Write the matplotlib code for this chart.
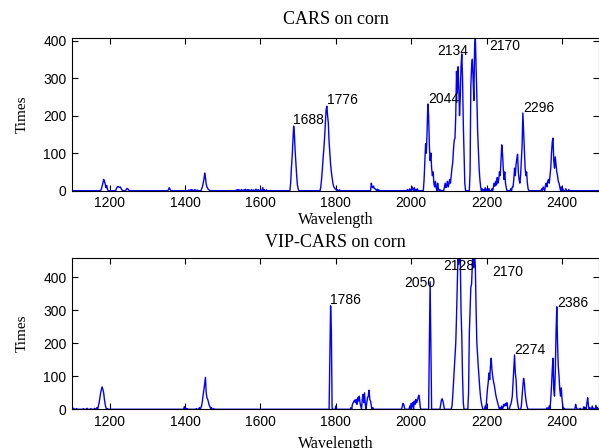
# -*- coding: utf-8 -*-
"""
Selection frequency of wavelengths, CARS vs VIP-CARS on the corn data set
"""

import numpy as np
import matplotlib
matplotlib.use("Agg")
import matplotlib.pyplot as plt


# wavelength grid of the corn spectra (1100-2498 nm, 2 nm step)
wavelength = np.arange(1100, 2500, 2)

# CARS: wavelengths that were selected at least once, and how many times
cars_wl = [1178, 1180, 1182, 1184, 1186, 1188, 1190, 1192, 1194,
           1218, 1220, 1222, 1224, 1226, 1228, 1230, 1232, 1244, 1246, 1248, 1250,
           1356, 1358, 1360, 1410, 1416, 1420, 1426, 1432,
           1444, 1446, 1448, 1450, 1452, 1454, 1456, 1458, 1460, 1462, 1464,
           1536, 1540, 1544, 1550, 1556, 1560, 1566, 1570, 1576, 1582, 1588, 1594,
           1600, 1606, 1610, 1616,
           1680, 1682, 1684, 1686, 1688, 1690, 1692, 1694, 1696, 1698, 1700,
           1760, 1762, 1764, 1766, 1768, 1770, 1772, 1774, 1776, 1778, 1780, 1782,
           1784, 1786, 1788, 1790, 1792, 1794, 1796, 1798, 1800, 1804, 1810,
           1894, 1896, 1898, 1900, 1902, 1904, 1906, 1910, 1914,
           1990, 1996, 2002, 2004, 2008, 2012, 2016,
           2034, 2036, 2038, 2040, 2042, 2044, 2046, 2048, 2050, 2052, 2054, 2056,
           2058, 2060, 2062, 2064, 2066, 2070, 2072, 2076,
           2088, 2090, 2092, 2094, 2096, 2098, 2100, 2102, 2104, 2106, 2108, 2110,
           2112, 2114, 2116, 2118, 2120, 2122, 2124, 2126, 2128, 2130, 2132, 2134,
           2136, 2138, 2140, 2142,
           2156, 2158, 2160, 2162, 2164, 2166, 2168, 2170, 2172, 2174, 2176, 2178,
           2180, 2182, 2184, 2188, 2192, 2196, 2200, 2206,
           2214, 2218, 2220, 2222, 2224, 2226, 2228, 2230, 2232, 2234, 2236, 2238,
           2240, 2242, 2244, 2246, 2248, 2250, 2252,
           2264, 2268, 2270, 2272, 2274, 2276, 2278, 2280, 2282, 2284, 2286, 2288,
           2290, 2292, 2294, 2296, 2298, 2300, 2302, 2304, 2306, 2308, 2310,
           2346, 2350, 2352, 2356, 2358, 2360, 2362, 2364, 2366, 2368, 2370, 2372,
           2374, 2376, 2378, 2380, 2382, 2384, 2386, 2388, 2390, 2392, 2394, 2398,
           2402, 2410, 2418]
cars_times = [5, 12, 20, 30, 25, 18, 8, 14, 4,
              6, 10, 11, 10, 9, 10, 6, 3, 3, 6, 5, 2,
              3, 8, 4, 2, 3, 2, 3, 2,
              5, 10, 20, 30, 47, 35, 18, 10, 6, 3, 2,
              2, 3, 2, 3, 2, 4, 3, 2, 3, 2, 4, 3,
              2, 8, 3, 2,
              20, 60, 90, 130, 172, 150, 105, 70, 40, 15, 5,
              10, 30, 55, 85, 110, 140, 175, 215, 225, 200, 180, 130,
              100, 70, 50, 35, 20, 12, 8, 5, 4, 3, 2,
              20, 10, 8, 12, 6, 5, 3, 4, 2,
              3, 5, 10, 4, 8, 3, 5,
              30, 80, 125, 100, 160, 231, 200, 120, 80, 100, 60, 40,
              50, 20, 10, 25, 8, 20, 5, 3,
              10, 20, 8, 15, 25, 10, 18, 30, 20, 40, 60, 75,
              110, 135, 140, 200, 318, 260, 330, 280, 200, 250, 330, 364,
              300, 180, 100, 20,
              50, 280, 330, 350, 300, 240, 380, 406, 330, 250, 160, 108,
              60, 30, 10, 5, 3, 8, 4, 6,
              5, 10, 20, 12, 25, 15, 35, 20, 30, 50, 40, 80,
              122, 100, 60, 30, 50, 20, 8,
              5, 10, 10, 30, 60, 40, 70, 85, 97, 50, 30, 20,
              40, 80, 120, 207, 160, 110, 60, 40, 50, 20, 5,
              5, 10, 5, 15, 20, 10, 25, 30, 20, 40, 60, 100,
              130, 140, 80, 60, 90, 70, 50, 40, 25, 20, 10, 10,
              5, 5, 3]

# VIP-CARS
vip_wl = [1104, 1112, 1130, 1140, 1150, 1160, 1166, 1170, 1172, 1174, 1176, 1178,
          1180, 1182, 1184, 1186, 1188, 1190, 1194,
          1398, 1402, 1406, 1430, 1438,
          1442, 1444, 1446, 1448, 1450, 1452, 1454, 1456, 1458, 1460, 1462, 1464,
          1466, 1470, 1476,
          1784, 1786, 1788, 1800,
          1840, 1844, 1846, 1848, 1850, 1852, 1854, 1856, 1858, 1860, 1862, 1864,
          1866, 1870, 1872, 1874, 1876, 1878, 1882, 1884, 1886, 1888, 1890, 1892,
          1894, 1898,
          1976, 1978, 1980, 1982, 1996, 2000, 2002, 2004, 2008, 2010, 2012, 2014,
          2016, 2018, 2020, 2022, 2024,
          2048, 2050, 2052,
          2078, 2080, 2082, 2084, 2086,
          2108, 2110, 2112, 2114, 2116, 2118, 2120, 2122, 2124, 2126, 2128, 2130,
          2132, 2134, 2136, 2138,
          2152, 2154, 2156, 2158, 2160, 2162, 2164, 2166, 2168, 2170, 2172, 2174,
          2176, 2178, 2180, 2182, 2184, 2186, 2188,
          2196, 2200, 2202, 2204, 2206, 2208, 2210, 2212, 2214, 2216, 2218, 2220,
          2222, 2224, 2226, 2228, 2230, 2232, 2236, 2240, 2244, 2246, 2248, 2250,
          2252, 2254,
          2262, 2264, 2266, 2268, 2270, 2272, 2274, 2276, 2278, 2280, 2282, 2284,
          2292, 2294, 2296, 2298, 2300, 2302, 2304, 2306, 2308,
          2360, 2366, 2370, 2372, 2374, 2376, 2378, 2380, 2382, 2384, 2386, 2388,
          2390, 2392, 2394, 2396, 2398, 2400, 2402, 2406,
          2436, 2438, 2448, 2458, 2462, 2466, 2468, 2470, 2474, 2480, 2484, 2490, 2494]
vip_times = [3, 2, 2, 3, 2, 3, 5, 10, 20, 35, 50, 60,
             68, 60, 50, 30, 15, 5, 2,
             8, 3, 2, 2, 5,
             5, 12, 25, 45, 60, 78, 97, 50, 35, 30, 22, 12,
             8, 5, 2,
             155, 314, 240, 10,
             5, 15, 20, 25, 28, 20, 30, 15, 35, 25, 40, 20,
             10, 30, 45, 20, 50, 15, 20, 35, 40, 58, 30, 25,
             10, 5,
             8, 18, 15, 5, 10, 18, 8, 20, 25, 15, 30, 20,
             25, 35, 43, 30, 5,
             190, 387, 200,
             15, 28, 32, 25, 12,
             10, 40, 80, 120, 155, 200, 280, 380, 470, 440, 470, 460,
             300, 225, 100, 20,
             50, 230, 300, 370, 380, 440, 470, 430, 470, 432, 300, 200,
             160, 125, 90, 60, 35, 20, 8,
             10, 30, 60, 80, 110, 90, 130, 155, 120, 100, 85, 75,
             60, 45, 34, 25, 15, 8, 5, 10, 8, 15, 10, 18,
             12, 20,
             10, 15, 25, 40, 80, 120, 165, 110, 90, 40, 20, 5,
             10, 40, 70, 94, 80, 50, 30, 15, 5,
             5, 10, 30, 70, 120, 155, 60, 40, 110, 230, 311, 200,
             130, 100, 60, 40, 65, 30, 10, 3,
             15, 5, 3, 8, 5, 20, 35, 10, 5, 10, 3, 12, 5]

# peak labels: text, x, y (data units of each panel)
cars_labels = [("1688", 1686, 187), ("1776", 1777, 242), ("2044", 2044, 245),
               ("2134", 2068, 371), ("2170", 2207, 386), ("2296", 2298, 220)]
vip_labels = [("1786", 1785, 331), ("2050", 1982, 384), ("2128", 2084, 434),
              ("2170", 2216, 417), ("2274", 2274, 180), ("2386", 2387, 323)]


def to_full(wl, times):
    y = np.zeros(len(wavelength))
    idx = ((np.array(wl) - 1100) // 2).astype(int)
    y[idx] = times
    return y


fig = plt.figure(figsize=(5.99, 4.48), dpi=100)

panels = [
    ([0.1202, 0.5744, 0.8798, 0.3402], cars_wl, cars_times, cars_labels,
     "CARS on corn", 406, 10.5, 1.5),
    ([0.1202, 0.0864, 0.8798, 0.3384], vip_wl, vip_times, vip_labels,
     "VIP-CARS on corn", 460, 7.5, 5),
]

for rect, wl, times, labels, title, ytop, tpad, xpad in panels:
    ax = fig.add_axes(rect)
    ax.plot(wavelength, to_full(wl, times), color="#0000ff", lw=1.0)
    ax.set_xlim(1100, 2498)
    ax.set_ylim(0, ytop)
    ax.set_xticks([1200, 1400, 1600, 1800, 2000, 2200, 2400])
    ax.set_yticks([0, 100, 200, 300, 400])
    ax.tick_params(direction="in", top=True, right=True, length=4.5,
                   width=0.8, labelsize=10, pad=4)
    for lab in ax.get_xticklabels() + ax.get_yticklabels():
        lab.set_family("Liberation Sans")
    for s in ax.spines.values():
        s.set_linewidth(0.8)
    for txt, x, y in labels:
        ax.text(x, y, txt, ha="left", va="center", fontsize=10,
                family="Liberation Sans")
    ax.set_title(title, family="Liberation Serif", fontsize=13, pad=tpad)
    ax.set_xlabel("Wavelength", family="Liberation Serif", fontsize=11.5,
                  labelpad=xpad)
    ax.set_ylabel("Times", family="Liberation Serif", fontsize=11,
                  labelpad=10)

fig.savefig("out.png", dpi=100)
